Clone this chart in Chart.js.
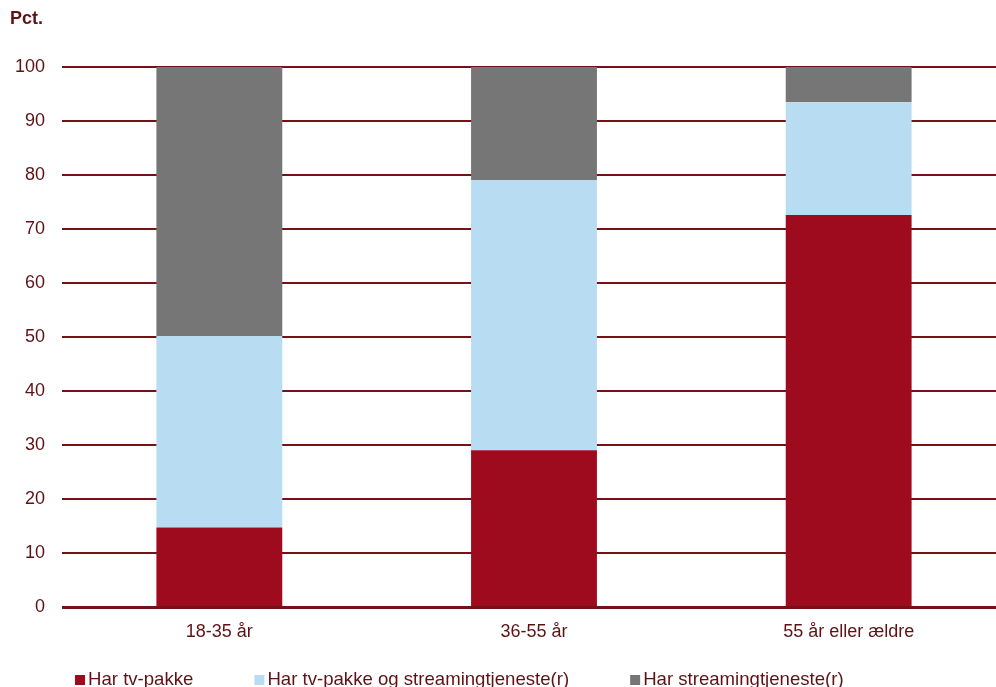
<!DOCTYPE html>
<html>
<head>
<meta charset="utf-8">
<script src="https://cdn.jsdelivr.net/npm/chart.js@4/dist/chart.umd.min.js"></script>
<style>
  html, body { margin: 0; padding: 0; overflow: hidden; background: #fff; }
  #chart { position: absolute; left: 0; top: 0; }
</style>
</head>
<body>
<canvas id="chart" width="1006" height="700"></canvas>
<script>
const categories = ['18-35 år', '36-55 år', '55 år eller ældre'];
const tvPakke = [14.8, 29.1, 72.6];
const tvOgStreaming = [35.4, 50.0, 20.9];
const streaming = [49.8, 20.9, 6.5];
const seriesLabels = ['Har tv-pakke', 'Har tv-pakke og streamingtjeneste(r)', 'Har streamingtjeneste(r)'];
const seriesColors = ['#9e0b1e', '#b8ddf3', '#767676'];

const textColor = '#5e1216';
const gridColor = '#751218';
const fontFamily = '"Liberation Sans", Arial, sans-serif';

// "Pct." label and the bottom legend, drawn at fixed spots like the original
const annotations = {
  id: 'annotations',
  afterDraw(chart) {
    const { ctx } = chart;
    ctx.save();
    ctx.fillStyle = textColor;
    ctx.textBaseline = 'middle';
    ctx.textAlign = 'left';
    ctx.font = `bold 18px ${fontFamily}`;
    ctx.fillText('Pct.', 10, 19);

    ctx.font = `18.6px ${fontFamily}`;
    let x = 75;
    const y = 680;
    chart.data.datasets.forEach((dataset) => {
      ctx.fillStyle = dataset.backgroundColor;
      ctx.fillRect(x, y - 5, 10, 10);
      ctx.fillStyle = textColor;
      ctx.fillText(dataset.label, x + 13, y);
      x += 13 + ctx.measureText(dataset.label).width + 61;
    });
    ctx.restore();
  },
};

new Chart(document.getElementById('chart'), {
  type: 'bar',
  data: {
    labels: categories,
    datasets: [tvPakke, tvOgStreaming, streaming].map((values, i) => ({
      label: seriesLabels[i],
      data: values,
      backgroundColor: seriesColors[i],
      borderWidth: 0,
      categoryPercentage: 0.8,
      barPercentage: 0.5,
    })),
  },
  options: {
    responsive: false,
    animation: false,
    layout: { padding: { left: 10, right: 0, top: 67, bottom: 51 } },
    plugins: {
      legend: { display: false },
      tooltip: { enabled: false },
    },
    scales: {
      x: {
        stacked: true,
        grid: { display: false },
        border: { display: false },
        ticks: { color: textColor, font: { family: fontFamily, size: 18 }, padding: 6 },
      },
      y: {
        stacked: true,
        min: 0,
        max: 100,
        afterFit: (scale) => { scale.width = 52; },
        ticks: { stepSize: 10, color: textColor, font: { family: fontFamily, size: 18 }, padding: 17 },
        grid: {
          color: gridColor,
          lineWidth: (ctx) => (ctx.tick && ctx.tick.value === 0 ? 3 : 2),
          drawTicks: false,
        },
        border: { display: false },
      },
    },
  },
  plugins: [annotations],
});
</script>
</body>
</html>
